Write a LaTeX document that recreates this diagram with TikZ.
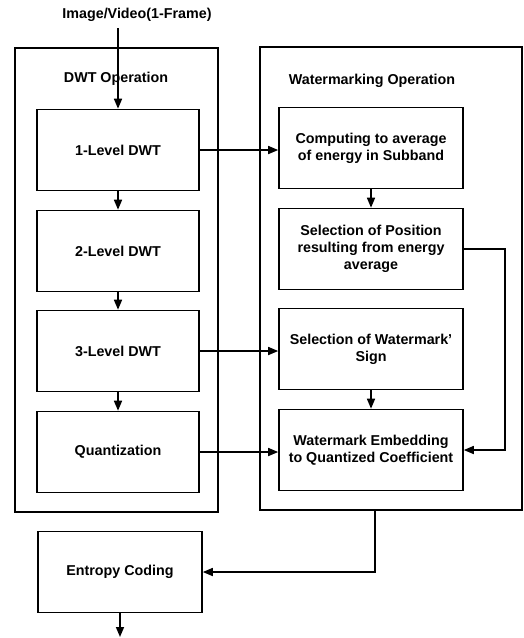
\documentclass[tikz,border=0pt]{standalone}
\usepackage{fontspec}
\setmainfont{Liberation Sans}
\usetikzlibrary{arrows.meta}
\begin{document}
\begin{tikzpicture}[x=1pt,y=-1pt,
  every node/.style={font=\fontsize{14.3}{17}\selectfont\bfseries},
  outerbox/.style={draw, line width=1.3pt, inner sep=0pt},
  lbox/.style={draw, line width=1.6pt, minimum width=162pt, minimum height=81pt, align=center, inner sep=0pt},
  rbox/.style={draw, line width=1.6pt, minimum width=184pt, minimum height=81pt, align=center, inner sep=0pt},
  conn/.style={line width=1.6pt, -{Triangle[length=10pt,width=8pt]}},
  plainline/.style={line width=1.6pt}
]
\useasboundingbox (0,0) rectangle (524,638);
% outer boxes
\node[outerbox, minimum width=203pt, minimum height=464pt] (dwtbox) at (116.5,280) {};
\node[outerbox, minimum width=262pt, minimum height=463pt] (wmbox) at (391,278.5) {};
\node (dwtlabel) at (116,79) {DWT Operation};
\node (wmlabel) at (372,81) {Watermarking Operation};
\node (input) at (137,15) {Image/Video(1-Frame)};
% left column
\node[lbox] (l1) at (118,150) {1-Level DWT};
\node[lbox] (l2) at (118,251) {2-Level DWT};
\node[lbox] (l3) at (118,351) {3-Level DWT};
\node[lbox] (q) at (118,452) {Quantization};
\node[lbox, minimum width=164pt] (ent) at (120,572) {Entropy Coding};
% right column
\node[rbox] (comp) at (371,148) {Computing to average\\of energy in Subband};
\node[rbox] (selpos) at (371,249) {Selection of Position\\resulting from energy\\average};
\node[rbox] (selwm) at (371,349) {Selection of Watermark'\\Sign};
\node[rbox] (emb) at (371,450) {Watermark Embedding\\to Quantized Coefficient};
% coordinates
\coordinate (instart) at (118,28);
\coordinate (fb) at (505,249);
\coordinate (wmout) at (375,510);
\coordinate (out) at (120,637);
% connectors
\draw[conn] (instart) -- (l1.north);
\draw[conn] (l1) -- (l2);
\draw[conn] (l2) -- (l3);
\draw[conn] (l3) -- (q);
\draw[conn] (l1.east) -- (comp.west |- l1.east);
\draw[conn] (l3.east) -- (selwm.west |- l3.east);
\draw[conn] (q.east) -- (emb.west |- q.east);
\draw[conn] (comp) -- (selpos);
\draw[conn] (selwm) -- (emb);
\draw[conn] (selpos.east) -- (fb) |- (emb.east);
\draw[conn] (wmout) |- (ent.east);
\draw[conn] (ent.south) -- (out);
\end{tikzpicture}
\end{document}
